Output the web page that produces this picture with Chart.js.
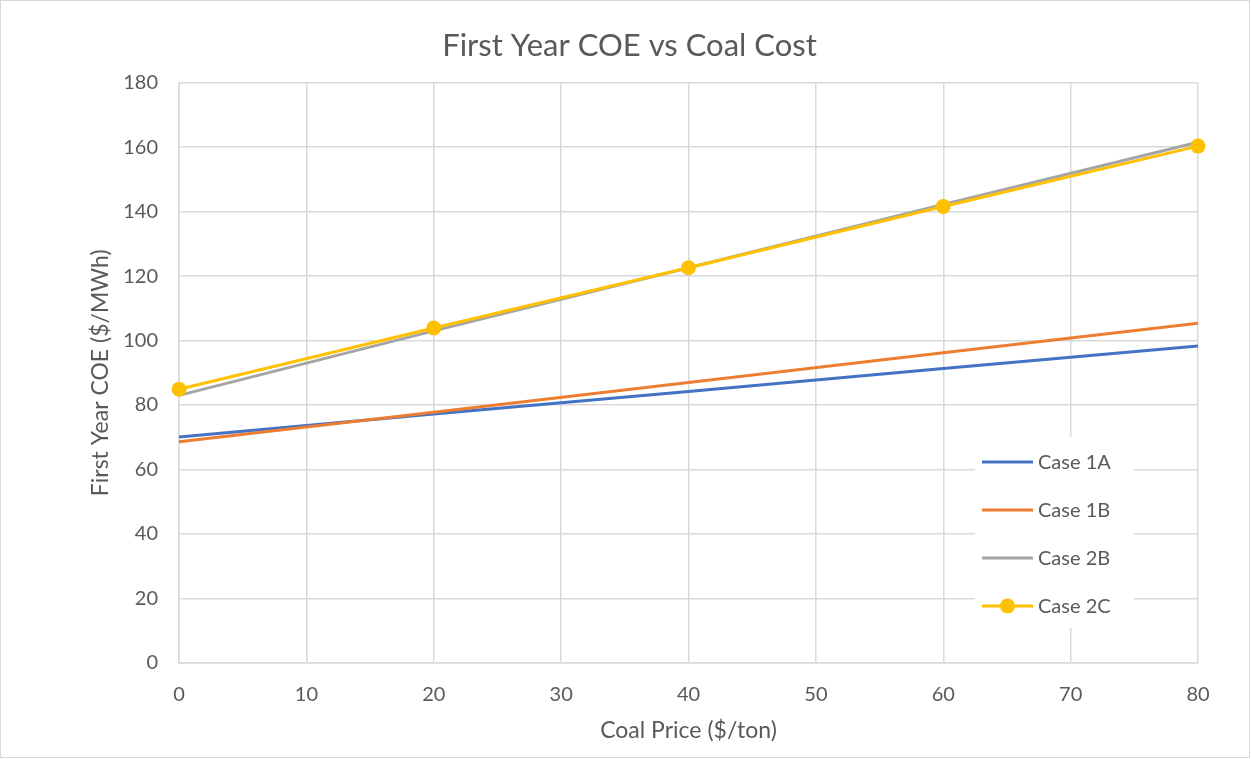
<!DOCTYPE html>
<html>
<head>
<meta charset="utf-8">
<script src="https://cdn.jsdelivr.net/npm/chart.js@4/dist/chart.umd.min.js"></script>
<style>
  html, body { margin: 0; padding: 0; background: #ffffff; }
  #wrap { width: 1251px; height: 759px; position: relative; }
</style>
</head>
<body>
<div id="wrap"><canvas id="c" width="1251" height="759"></canvas></div>
<script>
// ---- data ----
const coalPrice = [0, 20, 40, 60, 80];
const case1A = [70.1, 77.2, 84.2, 91.3, 98.3];
const case1B = [68.6, 77.8, 87.0, 96.2, 105.4];
const case2B = [83.0, 103.0, 122.6, 142.2, 161.5];
const case2C = [84.9, 103.9, 122.6, 141.6, 160.3];
const seriesNames = ['Case 1A', 'Case 1B', 'Case 2B', 'Case 2C'];
const chartTitle = 'First Year COE vs Coal Cost';
const xTitle = 'Coal Price ($/ton)';
const yTitle = 'First Year COE ($/MWh)';
const xMin = 0, xMax = 80, xStep = 10;
const yMin = 0, yMax = 180, yStep = 20;

// ---- styles ----
const FONT = 'Lato, "Open Sans", sans-serif';
const TEXT = '#595959';
const GRID = '#D9D9D9';
const colors = ['#4472C4', '#ED7D31', '#A5A5A5', '#FFC000'];

function pts(ys) { return coalPrice.map((x, i) => ({ x: x, y: ys[i] })); }
const allSeries = [case1A, case1B, case2B, case2C];

const datasets = allSeries.map((ys, i) => ({
  label: seriesNames[i],
  data: pts(ys),
  borderColor: colors[i],
  backgroundColor: colors[i],
  borderWidth: 3,
  pointRadius: i === 3 ? 7.5 : 0,
  pointHoverRadius: i === 3 ? 7.5 : 0,
  pointBorderWidth: 0,
  tension: 0,
  fill: false,
  clip: false,
  order: allSeries.length - 1 - i
}));

const frame = {
  id: 'frame',
  beforeDraw(chart) {
    const ctx = chart.ctx;
    ctx.save();
    ctx.fillStyle = '#ffffff';
    ctx.fillRect(0, 0, chart.width, chart.height);
    ctx.strokeStyle = GRID;
    ctx.lineWidth = 1;
    ctx.strokeRect(0.5, 0.5, chart.width - 2, chart.height - 2);
    // chart title
    ctx.fillStyle = TEXT;
    ctx.font = '31px ' + FONT;
    ctx.textAlign = 'center';
    ctx.textBaseline = 'alphabetic';
    ctx.fillText(chartTitle, chart.width / 2 + 4, 56);
    ctx.restore();
  }
};

const boxLegend = {
  id: 'boxLegend',
  afterDraw(chart) {
    const ctx = chart.ctx;
    const a = chart.chartArea;
    const bx = a.right - 223, bw = 159;
    const by = a.bottom - 226, bh = 191;
    ctx.save();
    ctx.fillStyle = '#ffffff';
    ctx.fillRect(bx, by, bw, bh);
    ctx.font = '20px ' + FONT;
    ctx.textBaseline = 'middle';
    ctx.textAlign = 'left';
    chart.data.datasets.forEach((ds, i) => {
      const cy = by + 25 + 48 * i;
      ctx.strokeStyle = ds.borderColor;
      ctx.lineWidth = 3;
      ctx.beginPath();
      ctx.moveTo(bx + 7, cy);
      ctx.lineTo(bx + 58, cy);
      ctx.stroke();
      if (ds.pointRadius > 0) {
        ctx.fillStyle = ds.backgroundColor;
        ctx.beginPath();
        ctx.arc(bx + 32.5, cy, ds.pointRadius, 0, Math.PI * 2);
        ctx.fill();
      }
      ctx.fillStyle = TEXT;
      ctx.fillText(ds.label, bx + 63, cy + 1);
    });
    ctx.restore();
  }
};

new Chart(document.getElementById('c'), {
  type: 'line',
  data: { datasets: datasets },
  plugins: [frame, boxLegend],
  options: {
    responsive: false,
    animation: false,
    events: [],
    layout: { padding: { left: 0, right: 53, top: 82.6, bottom: 0 } },
    plugins: {
      legend: { display: false },
      tooltip: { enabled: false },
      title: { display: false }
    },
    scales: {
      x: {
        type: 'linear',
        min: xMin, max: xMax,
        ticks: { stepSize: xStep, color: TEXT, font: { family: FONT, size: 20 }, padding: 20, maxRotation: 0 },
        grid: { color: GRID, lineWidth: 1.5, drawTicks: false },
        border: { color: GRID, width: 1.5 },
        title: { display: true, text: xTitle, color: TEXT, font: { family: FONT, size: 23 }, padding: { top: 0, bottom: 15 } },
        afterFit(scale) { scale.height = 96; }
      },
      y: {
        type: 'linear',
        min: yMin, max: yMax,
        ticks: { stepSize: yStep, color: TEXT, font: { family: FONT, size: 20 }, padding: 21 },
        grid: { color: GRID, lineWidth: 1.5, drawTicks: false },
        border: { color: GRID, width: 1.5 },
        title: { display: true, text: yTitle, color: TEXT, font: { family: FONT, size: 23 }, padding: { top: 87, bottom: 0 } },
        afterFit(scale) { scale.width = 179; }
      }
    }
  }
});
</script>
</body>
</html>
